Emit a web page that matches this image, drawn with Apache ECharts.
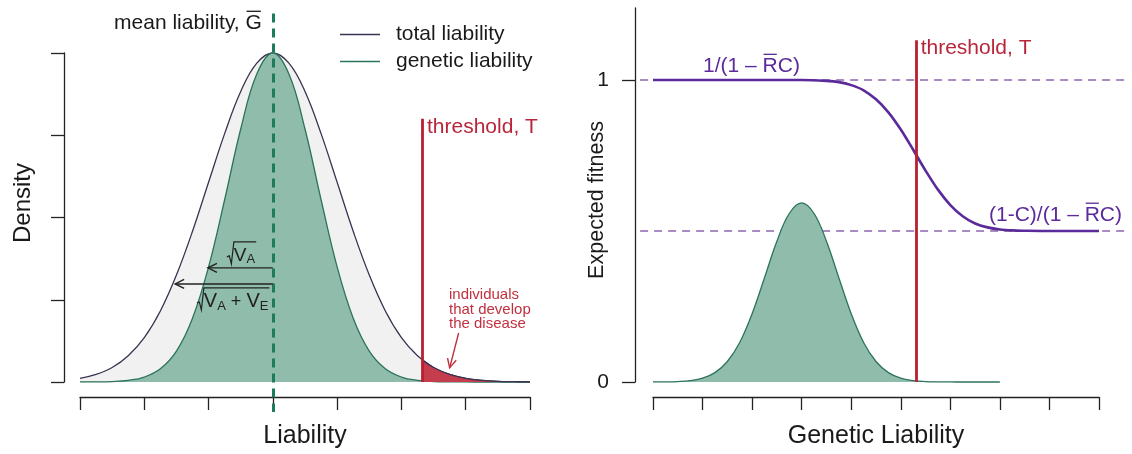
<!DOCTYPE html>
<html>
<head>
<meta charset="utf-8">
<script src="https://cdn.jsdelivr.net/npm/echarts@6/dist/echarts.min.js"></script>
<style>
  html, body { margin: 0; padding: 0; background: #fff; }
  #main { width: 1132px; height: 454px; }
</style>
</head>
<body>
<div id="main"></div>
<script>
// ---- left panel : liability densities (peak scaled to 1) ----
var liabX = [-3, -2.75, -2.5, -2.25, -2, -1.75, -1.5, -1.25, -1, -0.75, -0.5, -0.25, 0,
             0.25, 0.5, 0.75, 1, 1.25, 1.5, 1.75, 2, 2.25, 2.5, 2.75, 3, 3.25, 3.5, 3.75, 4];
var totalDensity = [0.011, 0.023, 0.044, 0.080, 0.135, 0.216, 0.325, 0.458, 0.607, 0.755, 0.883, 0.969, 1,
                    0.969, 0.883, 0.755, 0.607, 0.458, 0.325, 0.216, 0.135, 0.080, 0.044, 0.023, 0.011, 0.005, 0.002, 0.001, 0.0003];
var geneticDensity = [0.0001, 0.0004, 0.0014, 0.005, 0.015, 0.040, 0.094, 0.194, 0.350, 0.554, 0.769, 0.936, 1,
                      0.936, 0.769, 0.554, 0.350, 0.194, 0.094, 0.040, 0.015, 0.005, 0.0014, 0.0004, 0.0001, 0, 0, 0, 0];
var tailX = [2.32, 2.5, 2.75, 3, 3.25, 3.5, 3.75, 4];
var tailDensity = [0.068, 0.044, 0.023, 0.011, 0.005, 0.002, 0.001, 0.0003];
var meanLiability = 0;
var thresholdL = 2.32, thresholdLTop = 0.80;
var arrowVA = [[0, 0.347], [-1.01, 0.347]];
var arrowVAVE = [[0, 0.298], [-1.52, 0.298]];
var diseaseArrow = [[2.89, 0.149], [2.75, 0.043]];
var densityTicks = [0, 0.25, 0.5, 0.75, 1];

// ---- right panel : expected fitness ----
var geneX = [0, 0.5, 1, 1.5, 2, 2.5, 3, 3.5, 3.75, 4, 4.25, 4.5, 4.75, 5, 5.25, 5.5, 5.75,
             6, 6.25, 6.5, 6.75, 7, 7.25, 7.5, 8, 8.5, 9];
var fitness = [1, 1, 1, 1, 1, 1, 1, 0.997, 0.993, 0.983, 0.966, 0.936, 0.893, 0.836, 0.769, 0.700, 0.637,
               0.586, 0.549, 0.525, 0.512, 0.505, 0.502, 0.501, 0.5, 0.5, 0.5];
var bumpX = [0, 0.25, 0.5, 0.75, 1, 1.25, 1.5, 1.75, 2, 2.25, 2.5, 2.75, 3,
             3.25, 3.5, 3.75, 4, 4.25, 4.5, 4.75, 5, 5.25, 5.5, 5.75, 6, 6.25, 6.5, 6.75, 7];
var bumpY = [0.0001, 0.0004, 0.0014, 0.0045, 0.0125, 0.031, 0.068, 0.131, 0.226, 0.345, 0.466, 0.558, 0.593,
             0.558, 0.466, 0.345, 0.226, 0.131, 0.068, 0.031, 0.0125, 0.0045, 0.0014, 0.0004, 0.0001, 0, 0, 0, 0];
var fitnessLevels = [1, 0.5];
var levelSpan = [-0.26, 9.56];
var thresholdR = 5.32, thresholdRTop = 1.132;
var fitnessTicks = [0, 1];

var FONT = '"Liberation Sans", Arial, sans-serif';
var INK = '#1a1a1a';
var AX = { color: '#222', width: 1.3 };
var RED = '#b8202f';
var PURPLE = '#5b2a9b';

function pairs(xs, ys) {
  return xs.map(function (x, i) { return [x, ys[i]]; });
}

var chart = echarts.init(document.getElementById('main'));

function visAxis(grid, extra) {
  return Object.assign({
    gridIndex: grid, type: 'value',
    axisLine: { show: true, onZero: false, lineStyle: AX },
    axisTick: { show: true, length: 13, lineStyle: AX },
    axisLabel: { show: false },
    splitLine: { show: false }
  }, extra);
}
function hidAxis(grid, min, max) {
  return { gridIndex: grid, type: 'value', min: min, max: max, show: false, axisLine: { onZero: false } };
}

var option = {
  animation: false,
  textStyle: { fontFamily: FONT },
  grid: [
    { left: 80, width: 450, top: 11.875, height: 403.025 },
    { left: 80, width: 450, top: 396, height: 1 },
    { left: 64, width: 1, top: 53, height: 329 },
    { left: 628.222, width: 500.51, top: 4.5, height: 407.7 },
    { left: 653, width: 446, top: 396, height: 1 },
    { left: 635, width: 1, top: 8, height: 374 }
  ],
  xAxis: [
    hidAxis(0, -3, 4),
    visAxis(1, { min: -3, max: 4, interval: 1, name: 'Liability', nameLocation: 'middle', nameGap: 27,
                 nameTextStyle: { fontSize: 25, color: INK, fontFamily: FONT } }),
    hidAxis(2, 0, 1),
    hidAxis(3, -0.5, 9.6),
    visAxis(4, { min: 0, max: 9, interval: 1, name: 'Genetic Liability', nameLocation: 'middle', nameGap: 27,
                 nameTextStyle: { fontSize: 25, color: INK, fontFamily: FONT } }),
    hidAxis(5, 0, 1)
  ],
  yAxis: [
    hidAxis(0, -0.1, 1.125),
    hidAxis(1, 0, 1),
    visAxis(2, { min: 0, max: 1, interval: 0.25 }),
    hidAxis(3, -0.1, 1.25),
    hidAxis(4, 0, 1),
    visAxis(5, { min: 0, max: 1.2384,
                 axisTick: { show: true, length: 13, lineStyle: AX, customValues: fitnessTicks },
                 axisLabel: { show: true, customValues: fitnessTicks, fontSize: 21, color: INK, margin: 26, fontFamily: FONT } })
  ],
  legend: {
    data: ['total liability', 'genetic liability'],
    orient: 'vertical', left: 335, top: 19,
    icon: 'rect', itemWidth: 40, itemHeight: 1.5, itemGap: 6,
    selectedMode: false,
    textStyle: { fontSize: 21, color: INK, lineHeight: 20, padding: [0, 0, 0, 11], fontFamily: FONT }
  },
  series: [
    {
      name: 'total liability', type: 'line', xAxisIndex: 0, yAxisIndex: 0,
      data: pairs(liabX, totalDensity), smooth: 0.4, symbol: 'none', color: '#3b3352',
      lineStyle: { width: 1.3, color: '#3b3352' }, areaStyle: { color: '#f1f1f1', opacity: 1 }, z: 2
    },
    {
      name: 'genetic liability', type: 'line', xAxisIndex: 0, yAxisIndex: 0,
      data: pairs(liabX, geneticDensity), smooth: 0.4, symbol: 'none', color: '#2c735c',
      lineStyle: { width: 1.3, color: '#2c735c' }, areaStyle: { color: '#8fbcab', opacity: 1 }, z: 3
    },
    {
      name: 'disease', type: 'line', xAxisIndex: 0, yAxisIndex: 0,
      data: pairs(tailX, tailDensity), smooth: 0.4, symbol: 'none', color: '#3b3352',
      lineStyle: { width: 1.3, color: '#3b3352' }, areaStyle: { color: '#c53c4d', opacity: 1 }, z: 4,
      markLine: {
        silent: true, symbol: 'none', z: 6, label: { show: false },
        data: [
          [{ coord: [meanLiability, 1.12], lineStyle: { color: '#1f7b5e', width: 3, type: [9, 6] } },
           { coord: [meanLiability, -0.091] }],
          [{ coord: [thresholdL, 0], lineStyle: { color: RED, width: 2.8, type: 'solid' } },
           { coord: [thresholdL, thresholdLTop] }]
        ]
      }
    },
    {
      name: 'fitness', type: 'line', xAxisIndex: 3, yAxisIndex: 3,
      data: pairs(geneX, fitness), smooth: 0.3, symbol: 'none', color: PURPLE,
      lineStyle: { width: 2.6, color: PURPLE }, z: 4,
      markLine: {
        silent: true, symbol: 'none', z: 1, label: { show: false },
        lineStyle: { color: '#8a66ad', width: 1.5, type: [8, 6] },
        data: fitnessLevels.map(function (v) {
          return [{ coord: [levelSpan[0], v] }, { coord: [levelSpan[1], v] }];
        })
      }
    },
    {
      name: 'genetic values', type: 'line', xAxisIndex: 3, yAxisIndex: 3,
      data: pairs(bumpX, bumpY), smooth: 0.4, symbol: 'none', color: '#2c735c',
      lineStyle: { width: 1.3, color: '#2c735c' }, areaStyle: { color: '#8fbcab', opacity: 1 }, z: 2,
      markLine: {
        silent: true, symbol: 'none', z: 5, label: { show: false },
        lineStyle: { color: RED, width: 2.8, type: 'solid' },
        data: [[{ coord: [thresholdR, 0] }, { coord: [thresholdR, thresholdRTop] }]]
      }
    }
  ]
};
chart.setOption(option);

// ---- annotations, placed through the grids' own scales ----
var ctx = document.createElement('canvas').getContext('2d');
function textW(t, size) {
  ctx.font = size + 'px ' + FONT;
  return ctx.measureText(t).width;
}
function toPx(grid, p) {
  return chart.convertToPixel({ gridIndex: grid }, p);
}
function txt(x, y, t, size, color, align, rot) {
  return {
    type: 'text', x: x, y: y, rotation: rot || 0, silent: true, z: 20,
    style: { text: t, font: size + 'px ' + FONT, fill: color,
             align: align || 'left', verticalAlign: 'middle',
             textAlign: align || 'left', textVerticalAlign: 'middle' }
  };
}
function seg(points, color, w) {
  return { type: 'polyline', silent: true, z: 20,
           shape: { points: points }, style: { stroke: color, lineWidth: w || 1.3, fill: null } };
}
function mathRow(x, y, parts, color, align) {
  var out = [], total = 0;
  parts.forEach(function (p) { total += textW(p[0], p[1]); });
  var cx = align === 'right' ? x - total : x;
  parts.forEach(function (p) {
    var w = textW(p[0], p[1]), dy = p[2] || 0;
    out.push(txt(cx, y + dy, p[0], p[1], color, 'left'));
    if (p[3]) {
      var oy = y + dy - 0.37 * p[1] - 4;
      out.push(seg([[cx + 1, oy], [cx + w - 1, oy]], color, 1.3));
    }
    cx += w;
  });
  out.width = total;
  return out;
}
function sqrtLabel(x, y, parts, color) {
  var row = mathRow(x + 6, y, parts, color, 'left');
  var top = y - 14, bot = y + 8;
  row.push(seg([[x - 1, y + 1], [x + 1.5, y], [x + 3.5, bot], [x + 6, top], [x + 7 + row.width, top]], color, 1.2));
  return row;
}
function arrow(a, b, color, w) {
  var dx = b[0] - a[0], dy = b[1] - a[1], len = Math.sqrt(dx * dx + dy * dy);
  var ux = dx / len, uy = dy / len, nx = -uy, ny = ux;
  return [
    seg([a, b], color, w),
    seg([[b[0] - 9 * ux + 4.5 * nx, b[1] - 9 * uy + 4.5 * ny], b,
         [b[0] - 9 * ux - 4.5 * nx, b[1] - 9 * uy - 4.5 * ny]], color, w)
  ];
}

function annotate() {
  var g = [];
  // left panel
  var m = toPx(0, [-0.171, 1.091]);
  g = g.concat(mathRow(m[0], m[1], [['mean liability, ', 21], ['G', 21, 0, true]], INK, 'right'));

  var tl = toPx(0, [thresholdL, thresholdLTop]);
  g.push(txt(tl[0] + 5, tl[1] + 8, 'threshold, T', 21, '#b8253a'));

  var a1 = arrowVA.map(function (p) { return toPx(0, p); });
  var a2 = arrowVAVE.map(function (p) { return toPx(0, p); });
  g = g.concat(arrow(a1[0], a1[1], '#222', 1.4), arrow(a2[0], a2[1], '#222', 1.4));
  g = g.concat(sqrtLabel(a1[0][0] - 45, a1[0][1] - 12, [['V', 19], ['A', 13, 4]], '#222'));
  g = g.concat(sqrtLabel(a2[0][0] - 75, a2[0][1] + 18,
    [['V', 20], ['A', 13, 4], [' + ', 18], ['V', 20], ['E', 13, 4]], '#222'));

  var d = toPx(0, [2.74, 0.264]);
  ['individuals', 'that develop', 'the disease'].forEach(function (t, i) {
    g.push(txt(d[0], d[1] + i * 14.3, t, 15, '#c0303f'));
  });
  var ra = diseaseArrow.map(function (p) { return toPx(0, p); });
  g = g.concat(arrow(ra[0], ra[1], '#c0303f', 1.4));

  g.push(txt(23, 203, 'Density', 24, INK, 'center', Math.PI / 2));

  // right panel
  var tr = toPx(3, [thresholdR, thresholdRTop]);
  g.push(txt(tr[0] + 4, tr[1] + 8, 'threshold, T', 21, '#b8253a'));
  var u = toPx(3, [1.01, 1.046]);
  g = g.concat(mathRow(u[0], u[1], [['1/(1 \u2013 ', 21], ['R', 21, 0, true], ['C)', 21]], PURPLE, 'left'));
  var l = toPx(3, [6.78, 0.553]);
  g = g.concat(mathRow(l[0], l[1], [['(1-C)/(1 \u2013 ', 21], ['R', 21, 0, true], ['C)', 21]], PURPLE, 'left'));

  g.push(txt(597, 200, 'Expected fitness', 21.5, INK, 'center', Math.PI / 2));

  chart.setOption({ graphic: { elements: g } });
}
annotate();
</script>
</body>
</html>
